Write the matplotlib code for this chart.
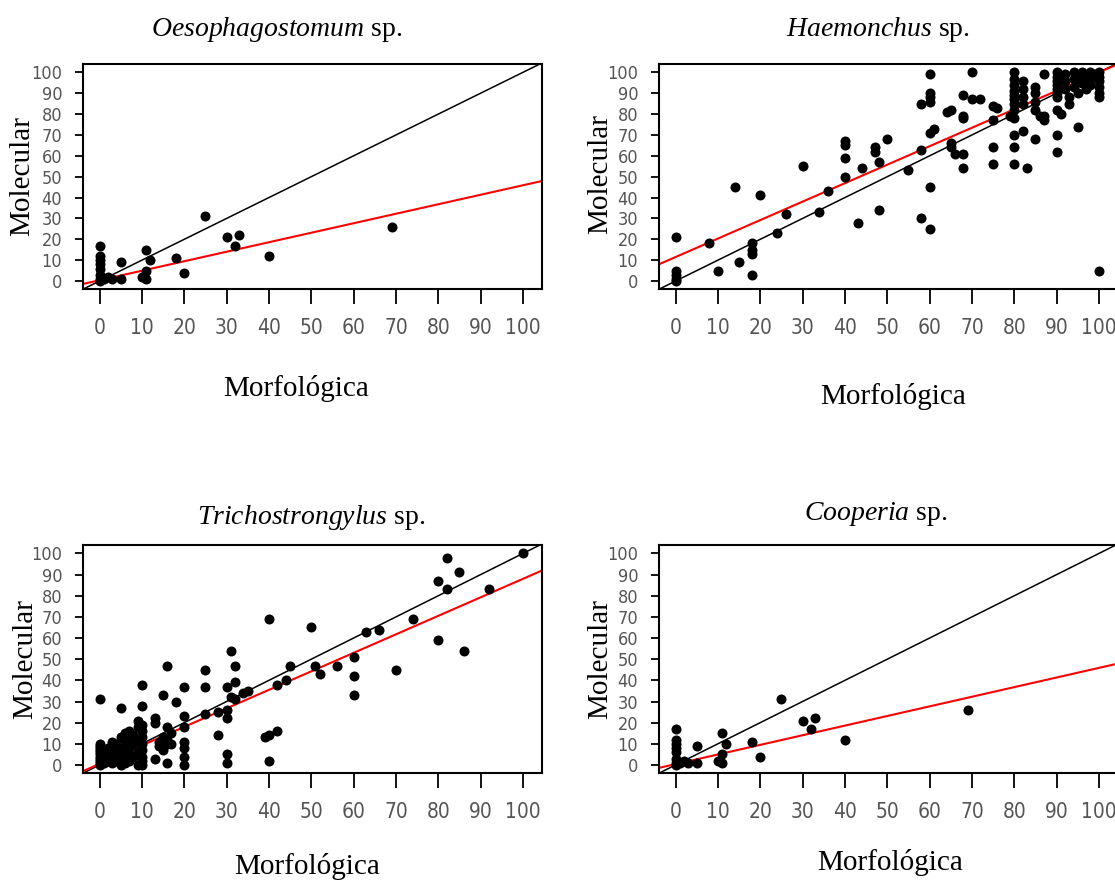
import numpy as np
import matplotlib
matplotlib.use('Agg')
import matplotlib.pyplot as plt

plt.rcParams['font.family'] = ['Liberation Serif', 'DejaVu Serif']
plt.rcParams['mathtext.fontset'] = 'custom'
plt.rcParams['mathtext.it'] = 'Liberation Serif:italic'
plt.rcParams['mathtext.rm'] = 'Liberation Serif'

# Oesophagostomum sp. (morphological %, molecular %)
oeso_x = [0, 0, 0, 0, 0, 0, 0, 0, 1, 2, 3, 5, 5, 10, 11, 11, 11, 12, 18, 20, 25, 30, 32, 33, 40, 69]
oeso_y = [17, 12, 10, 8, 6, 3, 1, 0, 1, 2, 1, 9, 1, 2, 1, 15, 5, 10, 11, 4, 31, 21, 17, 22, 12, 26]
oeso_fit = (0.4, 0.455)

# Haemonchus sp.
haem_x = [0, 0, 0, 0, 0, 8, 10, 14, 15, 18, 18, 18, 18, 20, 24, 26, 30, 34, 36, 40, 40, 40, 40,
          43, 44, 47, 47, 48, 48, 50, 55, 58, 58, 58, 60, 60, 60, 60, 60, 61, 60, 60, 64, 65, 65,
          65, 66, 68, 68, 68, 68, 68, 70, 70, 72, 75, 76, 75, 75, 75, 80, 80, 80, 80, 80, 80, 80,
          80, 79, 80, 80, 80, 80, 82, 82, 82, 82, 82, 83, 85, 85, 85, 85, 86, 85, 87, 87, 87, 90,
          90, 90, 90, 90, 90, 90, 90, 91, 90, 90, 92, 92, 92, 93, 93, 94, 94, 94, 95, 95, 96, 96,
          96, 97, 98, 98, 98, 99, 100, 100, 100, 100, 100, 100, 100]
haem_y = [21, 5, 3, 1, 0, 18, 5, 45, 9, 18, 15, 13, 3, 41, 23, 32, 55, 33, 43, 67, 65, 59, 50,
          28, 54, 64, 62, 57, 34, 68, 53, 85, 63, 30, 99, 90, 88, 86, 71, 73, 45, 25, 81, 82, 66,
          64, 61, 89, 79, 78, 61, 54, 100, 87, 87, 84, 83, 77, 64, 56, 100, 97, 94, 91, 89, 87, 85,
          82, 79, 78, 70, 64, 56, 96, 92, 88, 85, 72, 54, 93, 90, 86, 82, 79, 68, 79, 77, 99, 100,
          98, 96, 94, 92, 90, 88, 82, 80, 70, 62, 99, 96, 92, 88, 85, 100, 97, 93, 90, 74, 100, 98,
          95, 92, 100, 97, 94, 99, 100, 98, 96, 93, 90, 88, 5]
haem_fit = (11.5, 0.885)

# Trichostrongylus sp.
tric_x = [0, 0, 0, 0, 0, 0, 0, 0, 0, 0, 0, 0,
          1, 1, 1, 2, 2, 2, 2, 3, 3, 3, 3, 3, 4, 4, 4, 5, 5, 5, 5, 5, 5, 6, 6, 6, 6, 6,
          7, 7, 7, 7, 7, 8, 8, 8, 9, 9, 9, 9, 9, 10, 10, 10, 10, 10, 10, 10, 10, 10, 10,
          13, 13, 13, 15, 14, 14, 15, 15, 16, 16, 16, 17, 17, 16, 16, 18, 20, 20, 20, 20, 20,
          20, 20, 25, 25, 25, 28, 28, 30, 30, 30, 30, 30, 31, 31, 32, 32, 32, 34, 35, 39, 40,
          40, 40, 42, 42, 44, 45, 50, 51, 52, 56, 60, 60, 60, 63, 66, 70, 74, 80, 80, 82, 82,
          85, 86, 92, 100]
tric_y = [0, 1, 2, 3, 4, 5, 6, 7, 8, 9, 10, 31,
          1, 3, 5, 2, 4, 6, 8, 1, 3, 5, 9, 11, 2, 6, 10, 0, 2, 4, 7, 13, 27, 1, 3, 9, 12, 15,
          2, 5, 8, 11, 16, 4, 10, 14, 0, 6, 12, 18, 21, 0, 2, 4, 7, 10, 13, 16, 19, 28, 38,
          22, 20, 3, 33, 9, 11, 13, 7, 18, 10, 12, 15, 10, 1, 47, 30, 37, 23, 18, 11, 8,
          4, 0, 45, 37, 24, 25, 14, 37, 26, 22, 5, 1, 54, 32, 31, 47, 39, 34, 35, 13, 14,
          69, 2, 38, 16, 40, 47, 65, 47, 43, 47, 51, 42, 33, 63, 64, 45, 69, 87, 59, 98, 83,
          91, 54, 83, 100]
tric_fit = (0.5, 0.875)

# Cooperia sp.
coop_x = [0, 0, 0, 0, 0, 0, 0, 0, 1, 2, 3, 5, 5, 10, 11, 11, 11, 12, 18, 20, 25, 30, 32, 33, 40, 69]
coop_y = [17, 12, 10, 8, 6, 3, 1, 0, 1, 2, 1, 9, 1, 2, 1, 15, 5, 10, 11, 4, 31, 21, 17, 22, 12, 26]
coop_fit = (0.4, 0.455)

W, H = 1115, 880
fig = plt.figure(figsize=(W / 100, H / 100), dpi=100)


def px(x, y):
    return x / W, 1 - y / H


def panel(left, top, bottom, xs, ys, fit):
    ax = fig.add_axes([left / W, 1 - bottom / H, 459 / W, (bottom - top) / H])
    ax.scatter(xs, ys, s=52, c='k', marker='o', linewidths=0, zorder=3)
    ax.axline((0, 0), slope=1, color='k', lw=1.1, zorder=2)
    ax.axline((0, fit[0]), slope=fit[1], color='#ff0000', lw=1.5, zorder=2)
    ax.set_xlim(-3.9, 104.5)
    ax.set_ylim(-3.8, 104)
    ticks = np.arange(0, 101, 10)
    ax.set_xticks(ticks)
    ax.set_yticks(ticks)
    ax.set_xticklabels([str(t) for t in ticks], family='DejaVu Sans', stretch='condensed')
    ax.set_yticklabels([str(t) for t in ticks], family='DejaVu Sans', stretch='condensed')
    ax.tick_params(axis='x', length=11, width=1.3, pad=10, labelsize=15, labelcolor='#555555')
    ax.tick_params(axis='y', length=6, width=1.3, pad=9, labelsize=13, labelcolor='#555555')
    for s in ax.spines.values():
        s.set_linewidth(1.5)
    return ax


panel(83, 64, 289, oeso_x, oeso_y, oeso_fit)
panel(659, 64, 289, haem_x, haem_y, haem_fit)
panel(83, 545, 773, tric_x, tric_y, tric_fit)
panel(659, 545, 773, coop_x, coop_y, coop_fit)

titles = [(r'$\mathit{Oesophagostomum}$ sp.', 277, 30),
          (r'$\mathit{Haemonchus}$ sp.', 878, 30),
          (r'$\mathit{Trichostrongylus}$ sp.', 311, 518),
          (r'$\mathit{Cooperia}$ sp.', 876, 514)]
for t, x, y in titles:
    fig.text(*px(x, y), t, ha='center', va='center', fontsize=20)

for x, y in [(22, 176), (600, 174), (25, 659), (600, 659)]:
    fig.text(*px(x, y), 'Molecular', rotation=90, ha='center', va='center', fontsize=21)

for x, y in [(296, 388), (893, 396), (307, 866), (890, 862)]:
    fig.text(*px(x, y), 'Morfológica', ha='center', va='center', fontsize=21)

fig.savefig('out.png', dpi=100)
